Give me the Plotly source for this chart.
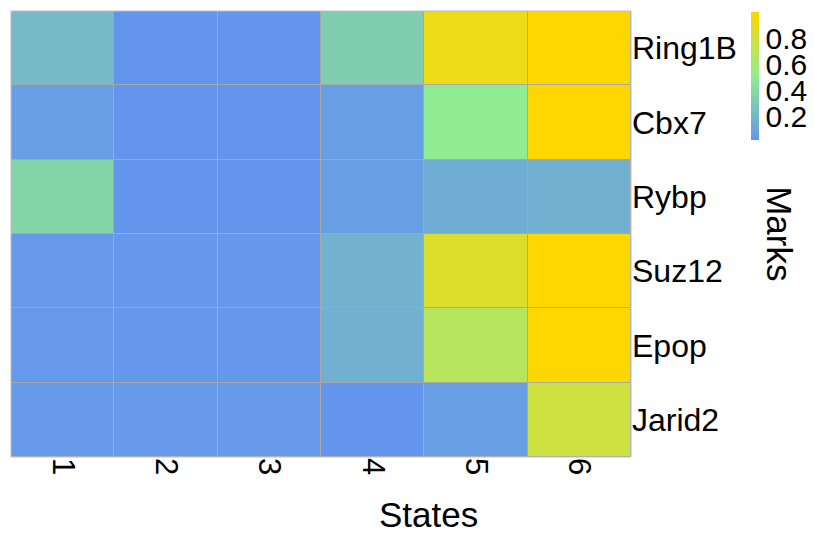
import plotly.graph_objects as go

# Heatmap of mark enrichment per chromatin state
states = ["1", "2", "3", "4", "5", "6"]
marks = ["Ring1B", "Cbx7", "Rybp", "Suz12", "Epop", "Jarid2"]

ring1b = [0.22, 0.02, 0.02, 0.33, 0.92, 1.00]
cbx7 = [0.07, 0.02, 0.02, 0.07, 0.50, 1.00]
rybp = [0.38, 0.02, 0.02, 0.07, 0.15, 0.17]
suz12 = [0.04, 0.03, 0.03, 0.18, 0.85, 1.00]
epop = [0.04, 0.03, 0.03, 0.17, 0.68, 1.00]
jarid2 = [0.04, 0.04, 0.04, 0.02, 0.07, 0.78]

z = [ring1b, cbx7, rybp, suz12, epop, jarid2]

colorscale = [[0.0, "#6495ED"], [0.5, "#90EE90"], [1.0, "#FFD700"]]
FONT = "Liberation Sans, Arial"

fig = go.Figure(
    go.Heatmap(
        z=z,
        x=states,
        y=marks,
        colorscale=colorscale,
        xgap=1,
        ygap=1,
        hoverongaps=False,
        colorbar=dict(
            x=1.194,
            xanchor="left",
            y=0.998,
            yanchor="top",
            len=0.287,
            thickness=8,
            xpad=0,
            ypad=0,
            outlinewidth=0,
            ticks="",
            tickvals=[0.2, 0.4, 0.6, 0.8],
            ticktext=["0.2", "0.4", "0.6", "0.8"],
            tickfont=dict(family=FONT, size=30, color="black"),
        ),
    )
)

fig.add_shape(
    type="rect", xref="paper", yref="paper", x0=0, y0=0, x1=1, y1=1,
    line=dict(color="#BDBDBD", width=1), fillcolor="rgba(0,0,0,0)",
)

fig.add_annotation(
    text="Marks", xref="paper", yref="paper", x=1.24, y=0.5,
    xanchor="center", yanchor="middle",
    textangle=90, showarrow=False,
    font=dict(family=FONT, size=35, color="black"),
)

fig.add_annotation(
    text="States", xref="paper", yref="paper", x=0.673, y=-0.128,
    xanchor="center", yanchor="middle", showarrow=False,
    font=dict(family=FONT, size=35, color="black"),
)

fig.update_layout(
    width=814,
    height=533,
    margin=dict(l=11, r=183, t=11, b=76),
    paper_bgcolor="white",
    plot_bgcolor="#A8A8A8",
    font=dict(family=FONT, color="black"),
    xaxis=dict(
        tickangle=90,
        tickfont=dict(size=31),
        showgrid=False,
        zeroline=False,
        ticks="",
    ),
    yaxis=dict(
        side="right",
        autorange="reversed",
        tickfont=dict(size=32),
        showgrid=False,
        zeroline=False,
        ticks="",
    ),
)

fig.write_html("out.html")
